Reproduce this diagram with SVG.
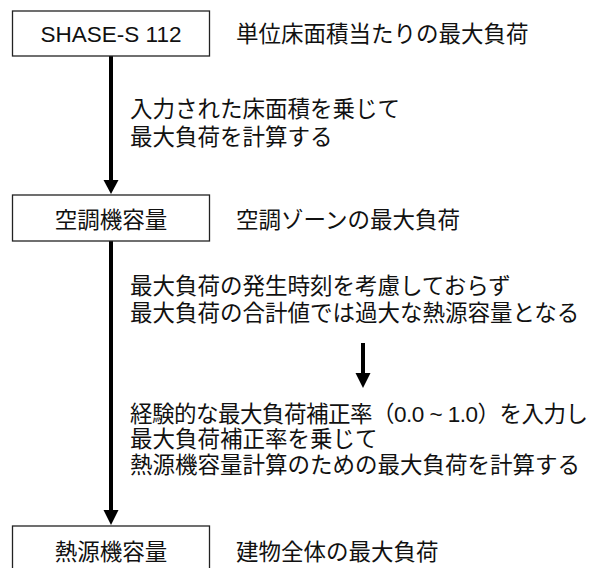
<svg xmlns="http://www.w3.org/2000/svg" width="594" height="568" viewBox="0 0 594 568">
<style>
  .box { fill: #ffffff; stroke: #222222; stroke-width: 1.3; }
  .t { font-family: "Liberation Sans", "Noto Sans CJK JP", sans-serif; font-size: 22.5px; fill: #111111; }
  .c { text-anchor: middle; }
  .conn { stroke: #000000; stroke-width: 4; fill: none; }
  .head { fill: #000000; }
</style>
<rect width="594" height="568" fill="#ffffff"/>
<g id="connectors">
  <line class="conn" x1="111" y1="56" x2="111" y2="181"/>
  <polygon class="head" points="103.5,180 118.5,180 111,194"/>
  <line class="conn" x1="111" y1="241" x2="111" y2="511"/>
  <polygon class="head" points="103.5,510 118.5,510 111,525"/>
  <line class="conn" x1="363" y1="343" x2="363" y2="374"/>
  <polygon class="head" points="355.5,373 370.5,373 363,388"/>
  <text class="t" x="130" y="117">入力された床面積を乗じて</text>
  <text class="t" x="130" y="145">最大負荷を計算する</text>
  <text class="t" x="130" y="294">最大負荷の発生時刻を考慮しておらず</text>
  <text class="t" x="130" y="321">最大負荷の合計値では過大な熱源容量となる</text>
  <text class="t" x="130" y="422" textLength="458" lengthAdjust="spacing">経験的な最大負荷補正率（0.0 ~ 1.0）を入力し</text>
  <text class="t" x="130" y="447">最大負荷補正率を乗じて</text>
  <text class="t" x="130" y="473">熱源機容量計算のための最大負荷を計算する</text>
</g>
<g id="node-shase">
  <rect class="box" x="12.5" y="11" width="197" height="45"/>
  <text class="t c" x="111" y="42">SHASE-S 112</text>
  <text class="t" x="236" y="42">単位床面積当たりの最大負荷</text>
</g>
<g id="node-ahu">
  <rect class="box" x="12.5" y="195" width="197" height="46"/>
  <text class="t c" x="111" y="228">空調機容量</text>
  <text class="t" x="236" y="228">空調ゾーンの最大負荷</text>
</g>
<g id="node-heat">
  <rect class="box" x="12.5" y="526" width="197" height="48"/>
  <text class="t c" x="111" y="560">熱源機容量</text>
  <text class="t" x="236" y="560">建物全体の最大負荷</text>
</g>
</svg>
